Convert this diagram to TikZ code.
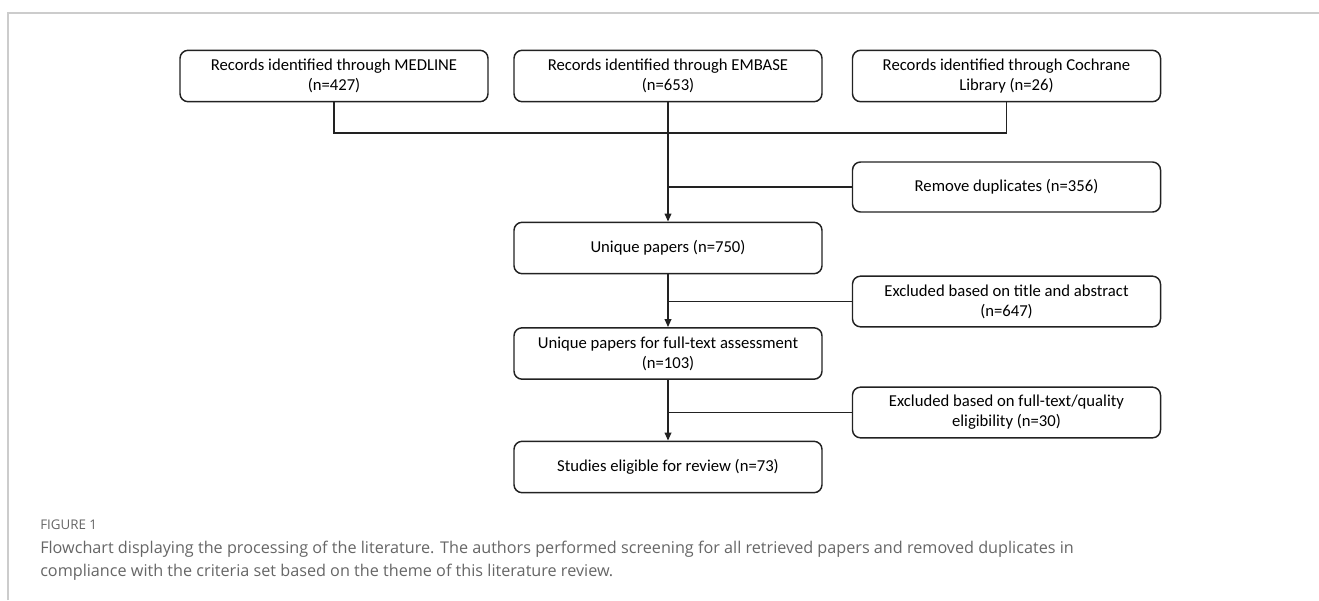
\documentclass[tikz,border=0pt]{standalone}
\usepackage{fontspec}
\setmainfont{Carlito}
\newfontfamily\capfont{Open Sans}
\usepackage{tikz}
\usetikzlibrary{arrows.meta,positioning,calc}
\usepackage{xcolor}
\definecolor{boxline}{HTML}{222222}
\definecolor{frameline}{HTML}{CCCCCC}
\definecolor{captext}{HTML}{666666}

\tikzset{
  flowbox/.style={draw=boxline, line width=1.1pt, rounded corners=6pt, align=center,
    minimum width=231pt, minimum height=38.5pt, inner sep=2pt,
    font=\fontsize{12.5}{15}\selectfont},
  link/.style={draw=boxline, line width=1.1pt},
  flowarrow/.style={link, -{Triangle[length=6pt,width=5pt]}}
}

\begin{document}
\begin{tikzpicture}[x=0.75pt, y=-0.75pt]
  \useasboundingbox (0,0) rectangle (1319,600);
  % page frame
  \draw[frameline, line width=1pt] (8,600) -- (8,13) -- (1319,13);

  % sources
  \node[flowbox] (medline) at (334,76) {Records identified through MEDLINE\\(n=427)};
  \node[flowbox] (embase) at (668,76) {Records identified through EMBASE\\(n=653)};
  \node[flowbox] (cochrane) at (1006.5,76) {Records identified through Cochrane\\Library (n=26)};

  % main column
  \node[flowbox] (unique) at (668,248) {Unique papers (n=750)};
  \node[flowbox] (fulltext) at (668,353.5) {Unique papers for full-text assessment\\(n=103)};
  \node[flowbox] (studies) at (668,467) {Studies eligible for review (n=73)};

  % exclusions
  \node[flowbox, minimum height=37.5pt] (dup) at (1006.5,187) {Remove duplicates (n=356)};
  \node[flowbox, minimum height=38pt] (extitle) at (1006.5,301.5) {Excluded based on title and abstract\\(n=647)};
  \node[flowbox, minimum height=38pt] (exfull) at (1006.5,412.5) {Excluded based on full-text/quality\\eligibility (n=30)};

  % connectors
  \coordinate (merge) at (668,133);
  \draw[link] (medline.south) |- (merge) -| (cochrane.south);
  \draw[flowarrow] (embase.south) -- (unique.north);
  \draw[flowarrow] (unique.south) -- (fulltext.north);
  \draw[flowarrow] (fulltext.south) -- (studies.north);
  \draw[link] (dup.west) -- (dup.west -| embase.south);
  \draw[link] (extitle.west) -- (extitle.west -| unique.south);
  \draw[link] (exfull.west) -- (exfull.west -| fulltext.south);

  % caption
  \node[anchor=west, text=captext, font=\capfont\fontsize{10}{12}\selectfont, inner sep=0pt] (figlabel) at (40,525) {FIGURE 1};
  \node[anchor=north west, text=captext, align=left, inner sep=0pt,
    font=\capfont\fontsize{12.15}{17.25}\selectfont] (caption) at (40,541)
    {Flowchart displaying the processing of the literature. The authors performed screening for all retrieved papers and removed duplicates in\\
     compliance with the criteria set based on the theme of this literature review.};
\end{tikzpicture}
\end{document}
